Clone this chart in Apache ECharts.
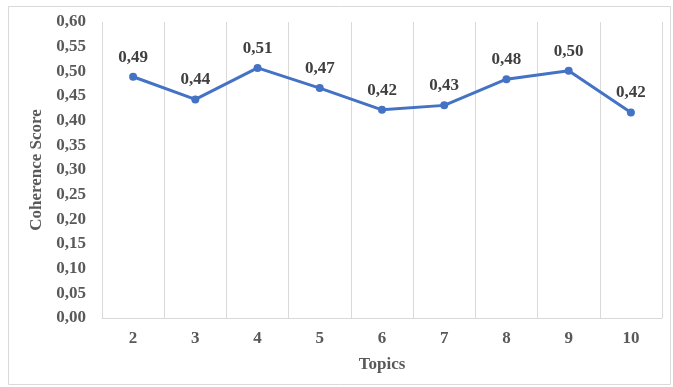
<!DOCTYPE html>
<html>
<head>
<meta charset="utf-8">
<script src="https://cdn.jsdelivr.net/npm/echarts@6/dist/echarts.min.js"></script>
<style>
  html, body { margin: 0; padding: 0; background: #fff; }
  #chart { width: 673px; height: 387px; }
</style>
</head>
<body>
<div id="chart"></div>
<script>
// Number of topics evaluated
const topics = ['2', '3', '4', '5', '6', '7', '8', '9', '10'];
// Coherence score per topic count
const coherence = [0.489, 0.443, 0.507, 0.466, 0.422, 0.431, 0.484, 0.501, 0.4165];
// Y-axis range
const yMin = 0, yMax = 0.6, yStep = 0.05;

const serif = '"Liberation Serif", "Times New Roman", serif';
const comma = v => v.toFixed(2).replace('.', ',');

const chart = echarts.init(document.getElementById('chart'));
chart.setOption({
  animation: false,
  backgroundColor: '#fff',
  graphic: [{
    type: 'rect',
    shape: { x: 8.5, y: 6.5, width: 662, height: 378 },
    style: { fill: 'none', stroke: '#d9d9d9', lineWidth: 1 },
    silent: true
  }],
  grid: { left: 102, right: 11, top: 22, bottom: 69 },
  xAxis: {
    type: 'category',
    data: topics,
    boundaryGap: true,
    name: 'Topics',
    nameLocation: 'middle',
    nameGap: 38,
    nameTextStyle: { fontFamily: serif, fontWeight: 'bold', fontSize: 17, color: '#595959' },
    axisLine: { show: true, lineStyle: { color: '#d9d9d9', width: 1 } },
    axisTick: { show: false },
    axisLabel: { fontFamily: serif, fontWeight: 'bold', fontSize: 17, color: '#595959', margin: 12 },
    splitLine: { show: true, lineStyle: { color: '#d9d9d9', width: 1 } }
  },
  yAxis: {
    type: 'value',
    min: yMin, max: yMax, interval: yStep,
    name: 'Coherence Score',
    nameLocation: 'middle',
    nameGap: 51,
    nameTextStyle: { fontFamily: serif, fontWeight: 'bold', fontSize: 17, color: '#595959' },
    axisLine: { show: false },
    axisTick: { show: false },
    splitLine: { show: false },
    axisLabel: { fontFamily: serif, fontWeight: 'bold', fontSize: 17, color: '#595959', margin: 16, formatter: comma }
  },
  series: [{
    type: 'line',
    data: coherence,
    symbol: 'circle',
    symbolSize: 8,
    lineStyle: { color: '#4472c4', width: 3 },
    itemStyle: { color: '#4472c4' },
    label: {
      show: true,
      position: 'top',
      distance: 7,
      fontFamily: serif,
      fontWeight: 'bold',
      fontSize: 17,
      color: '#404040',
      formatter: p => comma(p.value)
    }
  }]
});
</script>
</body>
</html>
